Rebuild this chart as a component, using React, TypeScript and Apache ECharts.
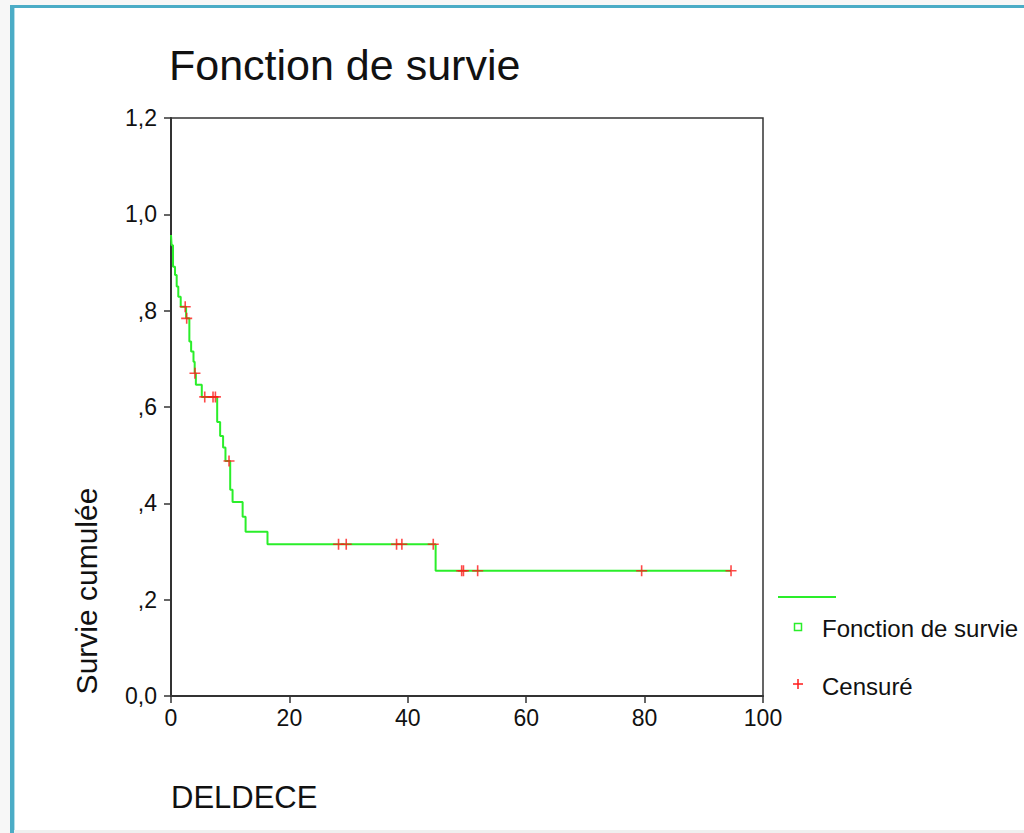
import React, { useEffect, useRef } from "react";
import * as echarts from "echarts";

// Kaplan-Meier step curve: event times and survival after each event
const survTimes = [0, 0.1, 0.34, 0.68, 0.96, 1.23, 1.64, 2.55, 3.1, 3.4, 3.8, 4.0, 4.2, 5.2, 7.8, 8.3, 8.8, 9.2, 10.0, 10.4, 12.1, 12.6, 16.3, 44.7, 94.6];
const survValues = [0.957, 0.936, 0.891, 0.874, 0.85, 0.829, 0.808, 0.784, 0.736, 0.715, 0.694, 0.67, 0.646, 0.621, 0.569, 0.54, 0.516, 0.488, 0.428, 0.403, 0.372, 0.341, 0.315, 0.26, 0.26];

// Censored observations
const censorTimes = [2.4, 2.65, 4.05, 5.7, 7.1, 7.5, 9.8, 28.3, 29.6, 38.1, 39.0, 44.3, 49.1, 49.4, 51.8, 79.5, 94.6];
const censorValues = [0.808, 0.784, 0.67, 0.621, 0.621, 0.621, 0.488, 0.315, 0.315, 0.315, 0.315, 0.315, 0.26, 0.26, 0.26, 0.26, 0.26];

const yTickLabels = ["0,0", ",2", ",4", ",6", ",8", "1,0", "1,2"];
const xTickLabels = ["0", "20", "40", "60", "80", "100"];

const seriesNames = ["Fonction de survie", "Censuré"];
const titleText = "Fonction de survie";
const xAxisTitle = "DELDECE";
const yAxisTitle = "Survie cumulée";

const FONT = "'Liberation Sans', Arial, sans-serif";
const GREEN = "#2aee2a";
const RED = "#ff1a1a";
const INK = "#111";

export default function App() {
  const ref = useRef<HTMLDivElement>(null);

  useEffect(() => {
    if (!ref.current) return;
    const chart = echarts.init(ref.current, null, { renderer: "svg" });

    const lineData = survTimes.map((t, i) => [t, survValues[i]]);
    const censorData = censorTimes.map((t, i) => [t, censorValues[i]]);

    const option: any = {
      animation: false,
      backgroundColor: "#ffffff",
      textStyle: { fontFamily: FONT },
      title: {
        text: titleText,
        left: 169,
        top: 43,
        padding: 0,
        textStyle: { fontSize: 43, fontWeight: "normal", color: INK, fontFamily: FONT },
      },
      grid: {
        left: 171,
        right: 261,
        top: 118,
        bottom: 137,
        show: true,
        borderColor: "#333",
        borderWidth: 1.5,
        backgroundColor: "transparent",
      },
      xAxis: {
        type: "value",
        min: 0,
        max: 100,
        interval: 20,
        axisLine: { show: true, onZero: false, lineStyle: { color: "#333", width: 2 } },
        axisTick: { show: true, inside: false, length: 7, lineStyle: { color: "#333", width: 1.5 } },
        splitLine: { show: false },
        axisLabel: {
          fontSize: 23,
          color: INK,
          margin: 10,
          fontFamily: FONT,
          formatter: (v: number) => xTickLabels[Math.round(v / 20)] ?? String(v),
        },
      },
      yAxis: {
        type: "value",
        min: 0,
        max: 1.2,
        interval: 0.2,
        axisLine: { show: true, onZero: false, lineStyle: { color: "#333", width: 2 } },
        axisTick: { show: true, inside: false, length: 7, lineStyle: { color: "#333", width: 1.5 } },
        splitLine: { show: false },
        axisLabel: {
          fontSize: 23,
          color: INK,
          margin: 14,
          fontFamily: FONT,
          formatter: (v: number) => yTickLabels[Math.round(v / 0.2)] ?? String(v),
        },
      },
      series: [
        {
          name: seriesNames[0],
          type: "line",
          step: "end",
          data: lineData,
          showSymbol: false,
          symbol: "none",
          lineStyle: { color: GREEN, width: 2 },
          z: 2,
        },
        {
          name: seriesNames[1],
          type: "scatter",
          data: censorData,
          symbol: "path://M0,5L10,5M5,0L5,10",
          symbolSize: 11,
          itemStyle: { color: "transparent", borderColor: RED, borderWidth: 1.6 },
          z: 3,
        },
      ],
      graphic: [
        // page frame
        { type: "rect", shape: { x: 0, y: 0, width: 1024, height: 5 }, style: { fill: "#f7f7f7" }, silent: true },
        { type: "rect", shape: { x: 0, y: 0, width: 10, height: 833 }, style: { fill: "#f7f7f7" }, silent: true },
        { type: "rect", shape: { x: 10, y: 5, width: 4, height: 828 }, style: { fill: "#4bacc6" }, silent: true },
        { type: "rect", shape: { x: 14, y: 8, width: 1, height: 825 }, style: { fill: "#b5dde8" }, silent: true },
        { type: "rect", shape: { x: 10, y: 5, width: 1014, height: 3 }, style: { fill: "#4bacc6" }, silent: true },
        { type: "rect", shape: { x: 14, y: 830, width: 1010, height: 3 }, style: { fill: "#efefef" }, silent: true },
        // axis titles
        {
          type: "text",
          x: 86,
          y: 591,
          rotation: Math.PI / 2,
          style: { text: yAxisTitle, fontSize: 30, fontFamily: FONT, fill: INK, textAlign: "center", textVerticalAlign: "middle" },
        },
        {
          type: "text",
          x: 171,
          y: 797,
          style: { text: xAxisTitle, fontSize: 31, fontFamily: FONT, fill: INK, textAlign: "left", textVerticalAlign: "middle" },
        },
        // legend
        { type: "line", shape: { x1: 778, y1: 597, x2: 836, y2: 597 }, style: { stroke: GREEN, lineWidth: 2 } },
        { type: "rect", shape: { x: 794.5, y: 623.5, width: 7, height: 7 }, style: { fill: "#fff", stroke: GREEN, lineWidth: 1.5 } },
        {
          type: "text",
          x: 822,
          y: 628,
          style: { text: seriesNames[0], fontSize: 24, fontFamily: FONT, fill: INK, textAlign: "left", textVerticalAlign: "middle" },
        },
        { type: "line", shape: { x1: 793, y1: 684, x2: 803, y2: 684 }, style: { stroke: RED, lineWidth: 1.5 } },
        { type: "line", shape: { x1: 798, y1: 679, x2: 798, y2: 689 }, style: { stroke: RED, lineWidth: 1.5 } },
        {
          type: "text",
          x: 822,
          y: 686,
          style: { text: seriesNames[1], fontSize: 24, fontFamily: FONT, fill: INK, textAlign: "left", textVerticalAlign: "middle" },
        },
      ],
    };

    chart.setOption(option);
    return () => chart.dispose();
  }, []);

  return (
    <div
      ref={ref}
      style={{ position: "fixed", left: 0, top: 0, width: 1024, height: 833 }}
    />
  );
}
